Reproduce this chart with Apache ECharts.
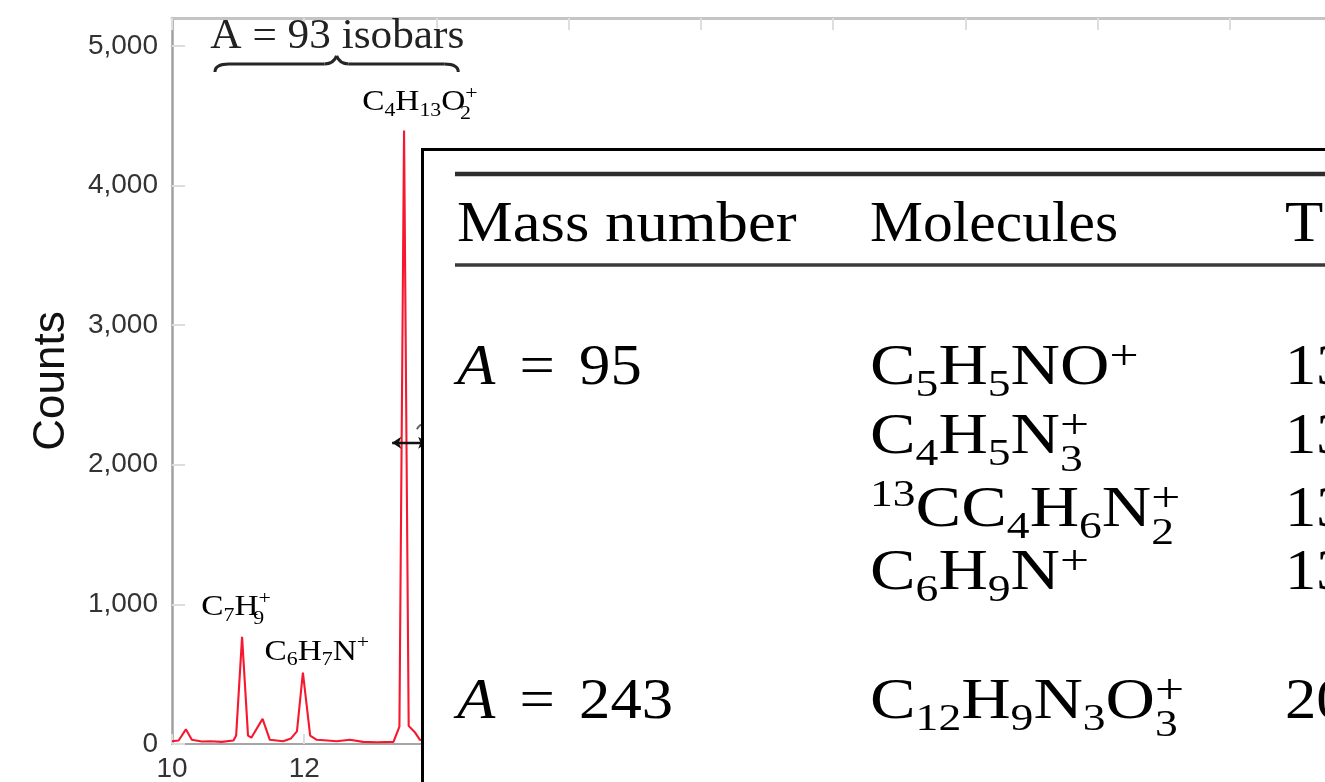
<!DOCTYPE html>
<html>
<head>
<meta charset="utf-8">
<title>A = 93 isobars</title>
<script src="https://cdn.jsdelivr.net/npm/echarts@6/dist/echarts.min.js"></script>
<style>
  html, body { margin: 0; padding: 0; background: #fff; }
  #chart { width: 1325px; height: 782px; }
</style>
</head>
<body>
<div id="chart"></div>
<script>
// ---- spectrum (mass / charge vs. counts) ----
const massValues  = [10.00, 10.10, 10.21, 10.30, 10.45, 10.58, 10.75, 10.93, 10.97, 11.06,
                     11.15, 11.20, 11.37, 11.48, 11.68, 11.80, 11.89, 11.98, 12.09, 12.19,
                     12.35, 12.49, 12.69, 12.89, 13.10, 13.35, 13.44, 13.51, 13.58, 13.68,
                     13.75, 13.90, 14.10];
const countValues = [20, 25, 105, 30, 18, 20, 15, 25, 60, 767,
                     60, 45, 180, 30, 20, 40, 90, 512, 60, 30,
                     25, 20, 30, 15, 12, 15, 125, 4395, 130, 80,
                     30, 15, 15];

// axis ranges
const massRange  = [10, 28];
const massStep   = 2;
const countRange = [0, 5200];
const countStep  = 1000;

// peak assignments: formula (rich markup) and anchor in data space
const peakNames  = ['{m|C}{b|4}{m|H}{b|13}{m|O}{bs|2}{pp|+}',
                    '{m|C}{b|7}{m|H}{bs|9}{pp|+}',
                    '{m|C}{b|6}{m|H}{b|7}{m|N}{pp|+}'];
const peakAnchorMass   = [13.75, 10.97, 12.19];
const peakAnchorCounts = [4592, 981, 659];

// table content
const tableHeader = ['Mass number', 'Molecules', 'T'];
const tableMass   = ['{i|A}{eq|=}{m|95}', '{i|A}{eq|=}{m|243}'];
const tableMolecules = [
  ['{m|C}{b|5}{m|H}{b|5}{m|NO}{pp|+}',
   '{m|C}{b|4}{m|H}{b|5}{m|N}{bs|3}{pp|+}',
   '{p|13}{m|CC}{b|4}{m|H}{b|6}{m|N}{bs|2}{pp|+}',
   '{m|C}{b|6}{m|H}{b|9}{m|N}{pp|+}'],
  ['{m|C}{b|12}{m|H}{b|9}{m|N}{b|3}{m|O}{bs|3}{pp|+}']
];
const tableThird = [['13', '13', '13', '13'], ['20']];

const SERIF = '"Liberation Serif", "DejaVu Serif", serif';
const SANS  = '"Liberation Sans", Arial, sans-serif';

// rich-text styles for chemical formulas with sub/superscripts;
// script tokens are shifted with padding against the line box
function scriptStyles(F, color, eqPad, plusRaise, plusScale) {
  const s = Math.round(F * 0.66);
  const sp = Math.round(F * plusScale);
  const L = Math.round(F * 2);
  const base = { fontFamily: SERIF, color: color };
  const pad = (size, d) => Math.max(0, Math.round(L / 2 - size / 2 - d));
  return {
    m:  Object.assign({}, base, { fontSize: F, lineHeight: L, verticalAlign: 'middle' }),
    i:  Object.assign({}, base, { fontSize: F, lineHeight: L, verticalAlign: 'middle', fontStyle: 'italic' }),
    eq: Object.assign({}, base, { fontSize: F, lineHeight: L, verticalAlign: 'middle', padding: [0, eqPad || 0] }),
    b:  Object.assign({}, base, { fontSize: s, verticalAlign: 'bottom', padding: [0, 0, pad(s, F * 0.30), 0] }),
    bs: Object.assign({}, base, { fontSize: s, verticalAlign: 'bottom', padding: [0, 0, pad(s, F * 0.40), 0], width: 0 }),
    p:  Object.assign({}, base, { fontSize: s, verticalAlign: 'top', padding: [pad(s, F * 0.27), 0, 0, 0] }),
    pp: Object.assign({}, base, { fontSize: sp, verticalAlign: 'top', padding: [pad(sp, F * plusRaise), 0, 0, 0] })
  };
}

const chart = echarts.init(document.getElementById('chart'), null, { renderer: 'canvas' });

const spectrum = massValues.map((m, i) => [m, countValues[i]]);

const option = {
  backgroundColor: '#fff',
  animation: false,
  grid: { left: 172, top: 18, width: 1190, height: 726, containLabel: false, outerBoundsMode: 'none' },
  xAxis: [
    {
      type: 'value', position: 'bottom',
      min: massRange[0], max: massRange[1], interval: massStep,
      axisLine: { show: true, lineStyle: { color: '#a6a6a6', width: 2 } },
      axisTick: { show: true, inside: true, length: 10, lineStyle: { color: '#dcdcdc', width: 2 } },
      axisLabel: { fontSize: 28, color: '#333', margin: 11, fontFamily: SANS },
      splitLine: { show: false }
    },
    {
      type: 'value', position: 'top',
      min: massRange[0], max: massRange[1], interval: massStep,
      axisLine: { show: true, lineStyle: { color: '#c4c4c4', width: 3 } },
      axisTick: { show: true, inside: true, length: 12, lineStyle: { color: '#dedede', width: 2 } },
      axisLabel: { show: false },
      splitLine: { show: false }
    }
  ],
  yAxis: {
    type: 'value',
    min: countRange[0], max: countRange[1], interval: countStep,
    name: 'Counts', nameLocation: 'middle', nameGap: 98, nameRotate: 90,
    nameTextStyle: { fontSize: 44, color: '#111', fontFamily: SANS },
    axisLine: { show: true, lineStyle: { color: '#a0a0a0', width: 2.5 } },
    axisTick: { show: true, inside: true, length: 13, lineStyle: { color: '#dcdcdc', width: 2 } },
    axisLabel: {
      fontSize: 28, color: '#333', margin: 14, fontFamily: SANS, showMaxLabel: false,
      formatter: v => v.toLocaleString('en-US')
    },
    splitLine: { show: false }
  },
  series: [{
    type: 'line',
    data: spectrum,
    showSymbol: false,
    smooth: false,
    lineStyle: { color: '#f7182f', width: 2.1 },
    z: 2,
    markLine: {
      silent: true,
      symbol: ['arrow', 'arrow'],
      symbolSize: [9, 9],
      label: { show: false },
      lineStyle: { color: '#111', width: 2.4, type: 'solid' },
      data: [[{ coord: [13.33, 2157] }, { coord: [13.86, 2157] }]],
      z: 5
    }
  }]
};

chart.setOption(option);

// ---- annotations placed from data coordinates ----
function px(m, c) { return chart.convertToPixel({ xAxisIndex: 0, yAxisIndex: 0 }, [m, c]); }

const graphics = [];

// peak labels
const peakRich = scriptStyles(29, '#222', 0, 0.28, 0.66);
peakNames.forEach((txt, i) => {
  const p = px(peakAnchorMass[i], peakAnchorCounts[i]);
  graphics.push({
    type: 'text', x: p[0], y: p[1], scaleX: 1.15, z: 50,
    style: { text: txt, rich: peakRich, align: 'center', verticalAlign: 'middle' }
  });
});

// "A = 93 isobars" with brace
const titleP = px(12.5, 5064);
graphics.push({
  type: 'text', x: titleP[0], y: titleP[1], scaleX: 1.03, z: 50,
  style: { text: 'A = 93 isobars', fontFamily: SERIF, fontSize: 42, fill: '#222',
           align: 'center', verticalAlign: 'middle' }
});
const bL = px(10.65, 4857), bR = px(14.33, 4857), bM = px(12.49, 4857);
const yBar = bL[1] - 2, yTip = yBar - 8, yEnd = yBar + 8;
const braceStyle = { stroke: '#262626', lineWidth: 3, fill: null };
function curve(x1, y1, cx, cy, x2, y2) {
  return { type: 'bezierCurve', z: 50, shape: { x1: x1, y1: y1, cpx1: cx, cpy1: cy, x2: x2, y2: y2 }, style: braceStyle };
}
function seg(x1, y1, x2, y2) {
  return { type: 'line', z: 50, shape: { x1: x1, y1: y1, x2: x2, y2: y2 }, style: braceStyle };
}
graphics.push(
  curve(bL[0], yEnd, bL[0], yBar, bL[0] + 14, yBar),
  seg(bL[0] + 14, yBar, bM[0] - 12, yBar),
  curve(bM[0] - 12, yBar, bM[0] - 3, yBar, bM[0], yTip),
  curve(bM[0], yTip, bM[0] + 3, yBar, bM[0] + 12, yBar),
  seg(bM[0] + 12, yBar, bR[0] - 14, yBar),
  curve(bR[0] - 14, yBar, bR[0], yBar, bR[0], yEnd)
);

// small cap mark next to the width arrow
const capP = px(13.78, 2290);
graphics.push({
  type: 'bezierCurve', z: 50,
  shape: { x1: capP[0] - 5, y1: capP[1] + 5, cpx1: capP[0], cpy1: capP[1] - 4, x2: capP[0] + 5, y2: capP[1] + 5 },
  style: { stroke: '#666', lineWidth: 2, fill: null }
});

// ---- table inset ----
const T = { left: 422.5, top: 149.5, colX: [457, 870, 1285],
            headerY: 245, rule1Y: 174, rule2Y: 265, ruleX: 455 };
const F = 57;
const tableRich = scriptStyles(F, '#111', 22, 0.20, 0.76);
const mid = b => b - Math.round(F * 0.3375);

graphics.push({
  type: 'rect', z: 90,
  shape: { x: T.left, y: T.top, width: 1400, height: 1000 },
  style: { fill: '#fff', stroke: '#000', lineWidth: 3 }
});
graphics.push({ type: 'line', z: 95, shape: { x1: T.ruleX, y1: T.rule1Y, x2: 1400, y2: T.rule1Y },
  style: { stroke: '#2e2e2e', lineWidth: 4.5 } });
graphics.push({ type: 'line', z: 95, shape: { x1: T.ruleX, y1: T.rule2Y, x2: 1400, y2: T.rule2Y },
  style: { stroke: '#3a3a3a', lineWidth: 3.6 } });

const headerScale = [1.10, 1.045, 1.1];
tableHeader.forEach((h, j) => {
  graphics.push({
    type: 'text', z: 95, x: T.colX[j], y: mid(T.headerY), scaleX: headerScale[j],
    style: { text: '{m|' + h + '}', rich: tableRich, align: 'left', verticalAlign: 'middle' }
  });
});

const rowBaselines = [[388, 457, 530, 593], [722]];
tableMass.forEach((mtxt, g) => {
  graphics.push({
    type: 'text', z: 95, x: T.colX[0], y: mid(rowBaselines[g][0]), scaleX: 1.1,
    style: { text: mtxt, rich: tableRich, align: 'left', verticalAlign: 'middle' }
  });
  tableMolecules[g].forEach((mol, r) => {
    graphics.push({
      type: 'text', z: 95, x: T.colX[1], y: mid(rowBaselines[g][r]), scaleX: 1.2,
      style: { text: mol, rich: tableRich, align: 'left', verticalAlign: 'middle' }
    });
    graphics.push({
      type: 'text', z: 95, x: T.colX[2], y: mid(rowBaselines[g][r]), scaleX: 1.1,
      style: { text: '{m|' + tableThird[g][r] + '}', rich: tableRich, align: 'left', verticalAlign: 'middle' }
    });
  });
});

chart.setOption({ graphic: graphics });
</script>
</body>
</html>
